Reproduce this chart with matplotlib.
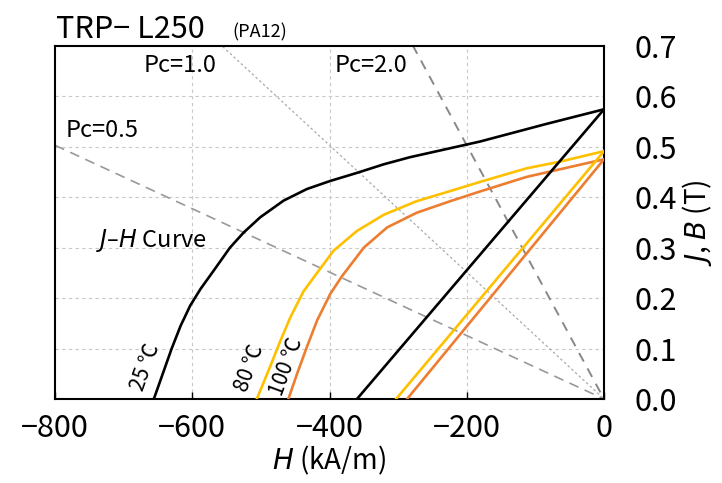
import numpy as np
import matplotlib
matplotlib.use("Agg")
import matplotlib.pyplot as plt

# ================================ Data ================================ #

# J-H demagnetization curves (H in kA/m, J in T)
h_25 = [0, -84, -181, -283, -321, -360, -399, -433, -467, -501, -525, -545, -569, -588, -603, -617, -630, -643, -656]
j_25 = [0.574, 0.545, 0.510, 0.479, 0.465, 0.448, 0.432, 0.416, 0.393, 0.360, 0.330, 0.300, 0.254, 0.218, 0.185, 0.145, 0.100, 0.050, 0.0]

h_80 = [0, -65, -113, -181, -224, -273, -321, -360, -394, -423, -438, -457, -472, -486, -506]
j_80 = [0.491, 0.470, 0.457, 0.430, 0.412, 0.392, 0.365, 0.333, 0.294, 0.241, 0.213, 0.162, 0.114, 0.066, 0.0]

h_100 = [0, -113, -181, -224, -273, -316, -350, -382, -399, -418, -433, -447, -460]
j_100 = [0.475, 0.440, 0.411, 0.392, 0.369, 0.340, 0.300, 0.243, 0.208, 0.156, 0.103, 0.051, 0.0]

# B-H straight lines: (H points, B points) from Br to Hcb
bh_25 = ([0, -360], [0.574, 0.0])
bh_80 = ([0, -303], [0.491, 0.0])
bh_100 = ([0, -287], [0.475, 0.0])

pc_values = [0.5, 1.0, 2.0]
y_ticks = [0.0, 0.1, 0.2, 0.3, 0.4, 0.5, 0.6, 0.7]
x_ticks = [-800, -600, -400, -200, 0]

# ================================ Style ================================ #

plt.rcParams["font.family"] = ["Noto Sans CJK JP", "DejaVu Sans"]
plt.rcParams["mathtext.fontset"] = "dejavusans"

black = "#000000"
yellow = "#FFC000"
orange = "#ED7D31"

fig = plt.figure(figsize=(7.22, 4.83), dpi=100)
ax = fig.add_axes([0.0762, 0.1739, 0.7604, 0.7315])

# ================================ Grid + load lines ================================ #

for y in y_ticks[1:-1]:
    ax.axhline(y, color="#c8c8c8", lw=0.8, ls=(0, (3, 3)), zorder=1)
for x in x_ticks[1:-1]:
    ax.axvline(x, color="#c8c8c8", lw=0.8, ls=(0, (3, 3)), zorder=1)

mu0 = 4 * np.pi * 1e-7 * 1e3  # T per kA/m
hh = np.array([-800, 0])
ax.plot(hh, -pc_values[0] * mu0 * hh, color="#999999", lw=1.2, ls=(0, (6, 4)), zorder=2)
ax.plot(hh, -pc_values[1] * mu0 * hh, color="#aaaaaa", lw=0.9, ls=(0, (2, 2)), zorder=2)
ax.plot(hh, -pc_values[2] * mu0 * hh, color="#888888", lw=1.4, ls=(0, (5, 4)), zorder=2)

# ================================ Curves ================================ #

for (hx, jy), c in [((h_25, j_25), black), ((h_80, j_80), yellow), ((h_100, j_100), orange)]:
    ax.plot(hx, jy, color=c, lw=1.9, zorder=3, solid_joinstyle="round")
ax.plot(*bh_25, color=black, lw=1.9, zorder=3)
ax.plot(*bh_80, color=yellow, lw=1.9, zorder=3)
ax.plot(*bh_100, color=orange, lw=1.9, zorder=3)

# ================================ Axes ================================ #

ax.set_xlim(-800, 0)
ax.set_ylim(0, 0.7)
ax.set_xticks(x_ticks)
ax.set_xticklabels(["\u2212800", "\u2212600", "\u2212400", "\u2212200", "0"], fontsize=22)
ax.tick_params(axis="x", direction="in", length=5, width=1, pad=10)
ax.yaxis.tick_right()
ax.set_yticks(y_ticks)
ax.set_yticklabels(["%.1f" % v for v in y_ticks], fontsize=22)
ax.tick_params(axis="y", length=0, pad=22)
for s in ax.spines.values():
    s.set_linewidth(1.5)

ax.set_xlabel(r"$H$ (kA/m)", fontsize=20, labelpad=0)
ax.yaxis.set_label_position("right")
ax.set_ylabel(r"$J$, $B$ (T)", fontsize=20, labelpad=2)

# ================================ Labels ================================ #

ax.text(-785, 0.531, "Pc=0.5", fontsize=17, ha="left", va="center")
ax.text(-671, 0.661, "Pc=1.0", fontsize=17, ha="left", va="center")
ax.text(-392, 0.661, "Pc=2.0", fontsize=17, ha="left", va="center")
ax.text(-741, 0.314, r"$J$–$H$ Curve", fontsize=17, ha="left", va="center")

ax.text(-668, 0.063, "25 ℃", fontsize=15, rotation=70, ha="center", va="center")
ax.text(-517, 0.061, "80 ℃", fontsize=15, rotation=70, ha="center", va="center")
ax.text(-462, 0.065, "100 ℃", fontsize=15, rotation=70, ha="center", va="center")

fig.text(0.077, 0.922, "TRP\u2212 L250", fontsize=22, ha="left", va="baseline")
fig.text(0.322, 0.922, "(PA12)", fontsize=13, ha="left", va="baseline")

fig.savefig("out.png", dpi=100)
